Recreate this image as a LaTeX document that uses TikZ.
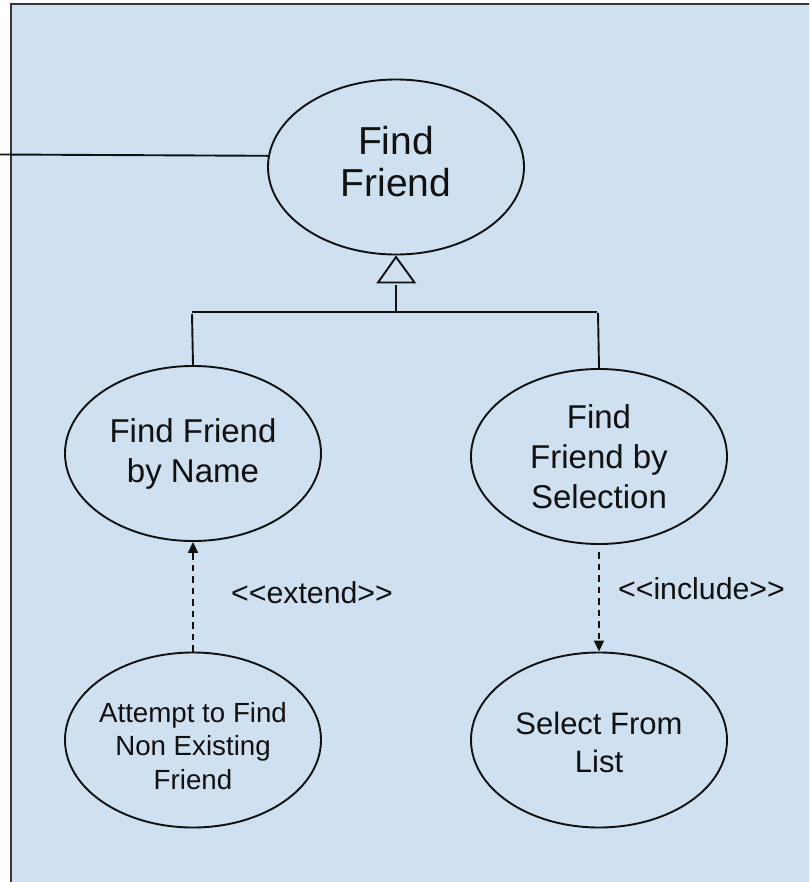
\documentclass[tikz,border=0pt]{standalone}
\usepackage{fontspec}
\setmainfont{Liberation Sans}
\usetikzlibrary{arrows.meta,shapes.geometric}
\definecolor{panelblue}{HTML}{CFE0F0}
\definecolor{ink}{HTML}{111111}
\tikzset{
  usecase/.style={ellipse,draw=ink,line width=1.9pt,minimum width=256pt,minimum height=175pt,inner sep=0pt},
  casetext/.style={inner sep=0pt,align=center,text=ink},
  conn/.style={draw=ink,line width=1.9pt},
  dep/.style={conn,dash pattern=on 6.5pt off 5pt,-{Triangle[length=11pt,width=10pt,inset=0pt,sep=0pt]}},
  lbl/.style={inner sep=0pt,text=ink,font=\fontsize{30.3}{36}\selectfont},
}
\begin{document}
\begin{tikzpicture}[x=1pt,y=-1pt]
\useasboundingbox (0,0) rectangle (809,882);
\begin{scope}
\clip (0,0) rectangle (809,882);
\draw[fill=panelblue,draw=ink!85!white,line width=2pt] (10.5,4.5) rectangle (830,900);
\end{scope}
\node[usecase,label={[casetext,yshift=5pt,font=\fontsize{39}{42}\selectfont]center:{Find\\Friend}}] (ff) at (396,167) {};
\node[usecase,label={[casetext,font=\fontsize{33}{40}\selectfont]center:{Find Friend\\by Name}}] (byname) at (193,453.5) {};
\node[usecase,label={[casetext,font=\fontsize{33}{40}\selectfont]center:{Find\\Friend by\\Selection}}] (bysel) at (599,456.5) {};
\node[usecase,label={[casetext,yshift=-6pt,font=\fontsize{27.7}{33.3}\selectfont]center:{Attempt to Find\\Non Existing\\Friend}}] (attempt) at (193,740) {};
\node[usecase,label={[casetext,yshift=-2.5pt,font=\fontsize{31}{37.5}\selectfont]center:{Select From\\List}}] (select) at (599,740) {};
\node[lbl,anchor=center] (extend) at (312,593) {<{}<extend>{}>};
\node[lbl,anchor=center] (include) at (701.5,589) {<{}<include>{}>};
\coordinate (actor) at (0,154.5);
\coordinate (tipApex) at (396,257);
\coordinate (tipL) at (378,282.5);
\coordinate (tipR) at (414.5,282.5);
\coordinate (stemTop) at (396,285);
\coordinate (stemBot) at (396,311);
\coordinate (barL) at (192,312);
\coordinate (barR) at (597,312);
\coordinate (leftTop) at (192,314);
\coordinate (rightTop) at (598,313);
\coordinate (selGap) at (599,552);
\path[conn] (actor) -- (ff.175);
\path[conn,line join=miter] (tipApex) -- (tipR) -- (tipL) -- cycle;
\path[conn] (stemTop) -- (stemBot);
\path[conn] (barL) -- (barR);
\path[conn] (leftTop) -- (byname.north);
\path[conn] (rightTop) -- (bysel.north);
\path[dep] (attempt.north) -- (byname.south);
\path[dep] (selGap) -- (select.north);
\end{tikzpicture}
\end{document}
